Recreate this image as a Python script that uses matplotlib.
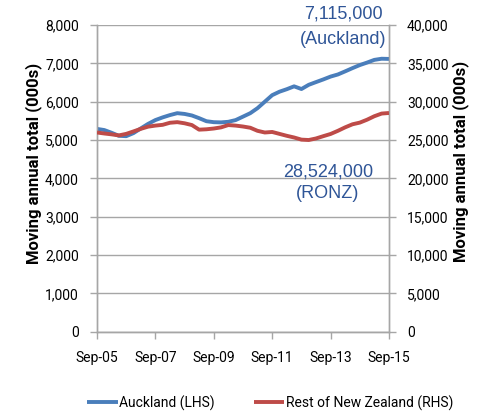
import matplotlib
matplotlib.use("Agg")
import matplotlib.pyplot as plt
import matplotlib.dates as mdates
import pandas as pd

# Quarterly readings, Sep-05 .. Sep-15
dates = pd.date_range("2005-09-01", "2015-09-01", freq="3MS")
auckland = [5290, 5260, 5190, 5110, 5100, 5180, 5300, 5420, 5520, 5590,
            5650, 5700, 5680, 5640, 5570, 5490, 5465, 5460, 5475, 5520,
            5610, 5700, 5830, 6000, 6170, 6260, 6325, 6400, 6330, 6440,
            6510, 6580, 6655, 6710, 6790, 6875, 6955, 7020, 7090, 7120, 7115]
ronz = [25980, 25850, 25740, 25600, 25800, 26120, 26450, 26740, 26880, 26980,
        27250, 27330, 27180, 26950, 26350, 26400, 26500, 26650, 26950, 26880,
        26760, 26600, 26200, 25980, 26050, 25800, 25550, 25330, 25050, 25000,
        25200, 25500, 25790, 26200, 26650, 27050, 27270, 27650, 28100, 28450, 28524]
tick_dates = pd.to_datetime(["2005-09-01", "2007-09-01", "2009-09-01",
                             "2011-09-01", "2013-09-01", "2015-09-01"])
left_ticks = list(range(0, 8001, 1000))
right_ticks = list(range(0, 40001, 5000))

blue = "#4A7EBB"
red = "#BE4B48"
anno = "#2F5597"
grid = "#A6A6A6"

plt.rcParams["font.family"] = ["Roboto", "DejaVu Sans"]

fig = plt.figure(figsize=(4.86, 4.16), dpi=100)
ax = fig.add_axes([97 / 486, 1 - 331.7 / 416, (389 - 97) / 486, (331.7 - 25) / 416])
ax2 = ax.twinx()

l1, = ax.plot(dates, auckland, color=blue, lw=2.8, solid_capstyle="butt", zorder=3)
l2, = ax2.plot(dates, ronz, color=red, lw=2.8, solid_capstyle="butt", zorder=3)

ax.set_xlim(tick_dates[0], tick_dates[-1])
ax.set_ylim(0, 8000)
ax2.set_ylim(0, 40000)
ax.set_yticks(left_ticks)
ax2.set_yticks(right_ticks)
ax.set_yticklabels([f"{v:,}" for v in left_ticks])
ax2.set_yticklabels([f"{v:,}" for v in right_ticks])
ax.set_xticks(tick_dates)
ax.xaxis.set_major_formatter(mdates.DateFormatter("%b-%y"))

ax.yaxis.grid(True, color=grid, lw=1.0)
ax.set_axisbelow(True)
for a in (ax, ax2):
    for s in a.spines.values():
        s.set_color(grid)
        s.set_linewidth(1.0)
    a.spines["top"].set_visible(False)
    a.tick_params(colors=grid, labelcolor="black", labelsize=10, length=5, width=1.0)
ax.tick_params(axis="y", pad=8)
ax2.tick_params(axis="y", pad=8)
ax.tick_params(axis="x", pad=9)

fig.text(34 / 486, 1 - 163 / 416, "Moving annual total (000s)", rotation=90,
         ha="center", va="center", fontsize=12, fontweight="bold")
fig.text(461 / 486, 1 - 161 / 416, "Moving annual total (000s)", rotation=90,
         ha="center", va="center", fontsize=12, fontweight="bold")

fig.text(343 / 486, 1 - 14 / 416, "7,115,000", ha="center", va="center",
         color=anno, fontsize=13, family="Liberation Sans")
fig.text(343 / 486, 1 - 40 / 416, "(Auckland)", ha="center", va="center",
         color=anno, fontsize=13, family="Liberation Sans")
fig.text(328 / 486, 1 - 172 / 416, "28,524,000", ha="center", va="center",
         color=anno, fontsize=13, family="Liberation Sans")
fig.text(328 / 486, 1 - 193 / 416, "(RONZ)", ha="center", va="center",
         color=anno, fontsize=13, family="Liberation Sans")

fig.legend([l1, l2], ["Auckland (LHS)", "Rest of New Zealand (RHS)"],
           loc="center", bbox_to_anchor=(270 / 486, 1 - 403 / 416), ncol=2,
           frameon=False, fontsize=10, handlelength=2.2, handletextpad=0.1,
           columnspacing=2.8, borderaxespad=0)

fig.savefig("out.png", dpi=100)
